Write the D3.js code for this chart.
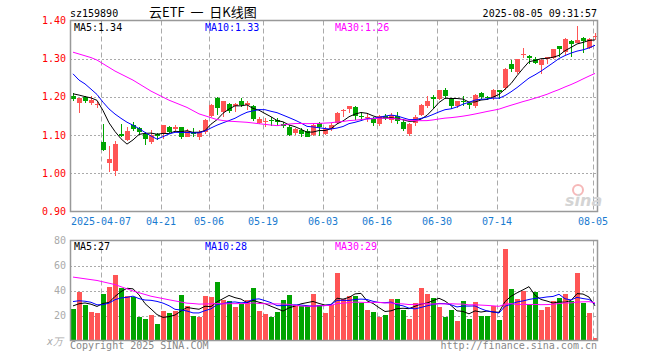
<!DOCTYPE html>
<html>
<head>
<meta charset="utf-8">
<script src="https://cdn.jsdelivr.net/npm/d3@7"></script>
<style>
  body { margin:0; background:#fff; }
  svg text { font-family:"DejaVu Sans Mono", monospace; font-size:10px; }
</style>
</head>
<body>
<div id="grafico"></div>
<script>
// dias de pregao (categorias)
const datas = ["2025-03-28","2025-03-31","2025-04-01","2025-04-02","2025-04-03","2025-04-07","2025-04-08","2025-04-09","2025-04-10","2025-04-11",
  "2025-04-14","2025-04-15","2025-04-16","2025-04-17","2025-04-18","2025-04-21","2025-04-22","2025-04-23","2025-04-24","2025-04-25",
  "2025-04-28","2025-04-29","2025-04-30","2025-05-06","2025-05-07","2025-05-08","2025-05-09","2025-05-12","2025-05-13","2025-05-14",
  "2025-05-15","2025-05-16","2025-05-19","2025-05-20","2025-05-21","2025-05-22","2025-05-23","2025-05-26","2025-05-27","2025-05-28",
  "2025-05-29","2025-05-30","2025-06-03","2025-06-04","2025-06-05","2025-06-06","2025-06-09","2025-06-10","2025-06-11","2025-06-12",
  "2025-06-13","2025-06-16","2025-06-17","2025-06-18","2025-06-19","2025-06-20","2025-06-23","2025-06-24","2025-06-25","2025-06-26",
  "2025-06-27","2025-06-30","2025-07-01","2025-07-02","2025-07-03","2025-07-04","2025-07-07","2025-07-08","2025-07-09","2025-07-10",
  "2025-07-11","2025-07-14","2025-07-15","2025-07-16","2025-07-17","2025-07-18","2025-07-21","2025-07-22","2025-07-23","2025-07-24",
  "2025-07-25","2025-07-28","2025-07-29","2025-07-30","2025-07-31","2025-08-01","2025-08-04","2025-08-05"];

const abertura = [1.203,1.183,1.201,1.183,1.179,1.081,1.027,1.006,1.104,1.087,
  1.126,1.118,1.102,1.082,1.102,1.103,1.120,1.115,1.120,1.096,
  1.109,1.096,1.109,1.150,1.198,1.161,1.182,1.175,1.190,1.178,
  1.176,1.132,1.134,1.140,1.140,1.129,1.120,1.106,1.113,1.111,
  1.100,1.132,1.103,1.115,1.131,1.162,1.168,1.173,1.150,1.145,
  1.141,1.129,1.150,1.140,1.150,1.135,1.103,1.131,1.153,1.176,
  1.199,1.194,1.218,1.194,1.176,1.190,1.183,1.176,1.210,1.199,
  1.199,1.217,1.223,1.287,1.264,1.310,1.306,1.299,1.284,1.300,
  1.302,1.332,1.318,1.347,1.341,1.355,1.328,1.356];
const maxima = [1.211,1.197,1.203,1.203,1.190,1.129,1.071,1.084,1.129,1.120,
  1.135,1.120,1.109,1.113,1.106,1.126,1.124,1.126,1.120,1.115,
  1.118,1.113,1.141,1.182,1.201,1.188,1.183,1.185,1.196,1.190,
  1.179,1.148,1.144,1.147,1.144,1.135,1.126,1.118,1.118,1.115,
  1.129,1.135,1.120,1.132,1.161,1.168,1.176,1.176,1.161,1.159,
  1.148,1.153,1.155,1.159,1.161,1.141,1.132,1.153,1.182,1.203,
  1.205,1.219,1.224,1.197,1.190,1.203,1.187,1.208,1.213,1.203,
  1.220,1.217,1.276,1.297,1.300,1.328,1.310,1.305,1.300,1.305,
  1.326,1.334,1.353,1.350,1.385,1.357,1.353,1.366];
const minima = [1.190,1.159,1.183,1.179,1.170,1.059,1.003,0.993,1.096,1.084,
  1.111,1.100,1.074,1.078,1.087,1.089,1.104,1.109,1.089,1.094,
  1.096,1.087,1.104,1.148,1.153,1.148,1.159,1.161,1.173,1.166,
  1.138,1.129,1.120,1.124,1.124,1.118,1.097,1.100,1.096,1.094,
  1.097,1.097,1.100,1.111,1.129,1.147,1.159,1.140,1.138,1.134,
  1.124,1.124,1.140,1.132,1.129,1.111,1.097,1.124,1.151,1.170,
  1.170,1.192,1.195,1.168,1.171,1.176,1.168,1.170,1.195,1.192,
  1.192,1.195,1.218,1.266,1.261,1.302,1.287,1.287,1.261,1.287,
  1.299,1.304,1.310,1.305,1.340,1.315,1.326,1.350];
const fechamento = [1.195,1.197,1.190,1.192,1.181,1.061,1.037,1.076,1.097,1.111,
  1.116,1.109,1.090,1.100,1.097,1.126,1.107,1.120,1.094,1.111,
  1.104,1.109,1.140,1.179,1.170,1.188,1.164,1.182,1.179,1.183,
  1.141,1.141,1.138,1.137,1.134,1.124,1.100,1.115,1.103,1.096,
  1.126,1.120,1.115,1.126,1.159,1.165,1.175,1.150,1.147,1.148,
  1.132,1.150,1.145,1.153,1.138,1.115,1.129,1.148,1.179,1.188,
  1.195,1.217,1.203,1.176,1.188,1.187,1.178,1.205,1.201,1.196,
  1.217,1.213,1.274,1.274,1.299,1.312,1.302,1.290,1.297,1.304,
  1.326,1.326,1.352,1.339,1.350,1.346,1.352,1.359];
// volume em 万
const volume = [25.0,38.6,28.2,22.6,21.8,37.0,42.6,52.2,41.8,35.4,
  34.6,18.9,17.0,20.2,13.0,23.4,21.8,23.4,36.2,27.4,
  19.4,18.6,35.4,34.6,46.6,32.2,31.4,26.6,29.0,32.2,
  41.8,23.4,21.0,18.6,22.6,32.2,36.2,28.2,27.4,27.4,
  37.0,28.2,21.8,28.2,54.1,33.0,35.4,35.7,30.4,24.2,
  22.6,18.6,20.2,33.0,33.0,24.2,17.0,29.8,41.8,37.0,
  33.8,26.6,18.6,24.2,15.4,31.4,17.0,30.6,19.4,19.4,
  27.4,16.2,73.0,41.0,33.0,39.4,29.0,38.6,24.2,26.6,
  31.4,33.8,37.0,31.4,53.8,29.8,21.8,1.8];
// dias antes do primeiro visivel (estimados pelas linhas MA)
const histFech = [1.338,1.331,1.333,1.376,1.349,1.325,1.364,1.334,1.348,1.353,
  1.397,1.378,1.388,1.334,1.363,1.344,1.310,1.284,1.301,1.357,
  1.361,1.290,1.329,1.320,1.263,1.214,1.210,1.209,1.213];
const histVol = [59.0,48.6,43.0,42.2,70.0,75.6,85.2,92.8,86.4,85.6,
  60.9,59.0,62.2,41.5,51.9,50.3,50.4,63.2,54.4,28.4,
  32.0,32.0,31.0,42.0,36.0,30.0,25.0,27.6,30.8];

const ticksPreco = [0.90,1.00,1.10,1.20,1.30,1.40];
const ticksVol = [20,40,60,80];
const ticksData = ["2025-04-07","2025-04-21","2025-05-06","2025-05-19","2025-06-03","2025-06-16","2025-06-30","2025-07-14","2025-08-05"];
const textosData = ["2025-04-07","04-21","05-06","05-19","06-03","06-16","06-30","07-14","08-05"];
const periodos = [5,10,30];
const legPreco = ["1.34","1.33","1.26"];
const legVol = ["27","28","29"];

const corMA = ["#000000","#0000ff","#ff00ff"];
const vermelho = "#ff5555", verde = "#00a400";

const svg = d3.select('#grafico').append('svg')
  .attr('width',660).attr('height',360);

const x = d3.scaleBand().domain(datas).range([70,598]).paddingInner(1/6).paddingOuter(1/12);
const cx = d => x(d) + x.bandwidth()/2;
const y = d3.scaleLinear().domain([0.90,1.40]).range([211.5,20.5]);
const yv = d3.scaleLinear().domain([0,80]).range([340.5,240.5]);

function media(vals, hist, n){ //media movel usando o historico
  const tudo = hist.concat(vals);
  return vals.map((v,i) => d3.mean(tudo.slice(hist.length+i-n+1, hist.length+i+1)));
}

// grades
[[y,ticksPreco.slice(1,5)],[yv,ticksVol.slice(0,3)]].forEach(([esc,ts]) => {
  svg.append('g').selectAll('line').data(ts).join('line')
    .attr('x1',70).attr('x2',597).attr('y1',d=>Math.round(esc(d))+0.5).attr('y2',d=>Math.round(esc(d))+0.5)
    .attr('stroke','#aaa').attr('stroke-dasharray','2,2');
});
[[20.5,211.5],[240.5,340.5]].forEach(([a,b]) => {
  svg.append('g').selectAll('line').data(ticksData).join('line')
    .attr('x1',d=>Math.round(x(d))+0.5).attr('x2',d=>Math.round(x(d))+0.5)
    .attr('y1',a).attr('y2',b)
    .attr('stroke','#aaa').attr('stroke-dasharray','5,3');
});

// velas
const ohlc = datas.map((d,i) => ({d, o:abertura[i], h:maxima[i], l:minima[i], c:fechamento[i], v:volume[i]}));
const velas = svg.append('g').attr('shape-rendering','crispEdges');
velas.selectAll('line').data(ohlc).join('line')
  .attr('x1',d=>Math.floor(cx(d.d))+0.5).attr('x2',d=>Math.floor(cx(d.d))+0.5)
  .attr('y1',d=>y(d.h)).attr('y2',d=>y(d.l))
  .attr('stroke',d=>d.c>=d.o?vermelho:verde);
velas.selectAll('rect').data(ohlc).join('rect')
  .attr('x',d=>Math.floor(cx(d.d))-2).attr('width',5)
  .attr('y',d=>y(Math.max(d.o,d.c)))
  .attr('height',d=>Math.max(1, y(Math.min(d.o,d.c))-y(Math.max(d.o,d.c))))
  .attr('fill',d=>d.c>=d.o?vermelho:verde);

// barras de volume
svg.append('g').attr('shape-rendering','crispEdges')
  .selectAll('rect').data(ohlc).join('rect')
  .attr('x',d=>Math.floor(cx(d.d))-2).attr('width',5)
  .attr('y',d=>yv(d.v)).attr('height',d=>yv(0)-yv(d.v))
  .attr('fill',d=>d.c>=d.o?vermelho:verde);

// medias moveis
periodos.forEach((n,k) => {
  const mp = media(fechamento, histFech, n);
  const mv = media(volume, histVol, n);
  svg.append('path').datum(mp)
    .attr('d', d3.line().x((v,i)=>cx(datas[i])).y(v=>y(v)))
    .attr('fill','none').attr('stroke',corMA[k]).attr('stroke-width',1);
  svg.append('path').datum(mv)
    .attr('d', d3.line().x((v,i)=>cx(datas[i])).y(v=>yv(v)))
    .attr('fill','none').attr('stroke',corMA[k]).attr('stroke-width',1);
});

// bordas
svg.append('rect').attr('x',70.5).attr('y',20.5).attr('width',527).attr('height',191)
  .attr('fill','none').attr('stroke','#999').attr('stroke-width',1.5);
svg.append('rect').attr('x',70.5).attr('y',240.5).attr('width',527).attr('height',100)
  .attr('fill','none').attr('stroke','#999').attr('stroke-width',1.5);

// eixos
svg.append('g').selectAll('text').data(ticksPreco).join('text')
  .attr('x',66).attr('y',d=>y(d)+3.5).attr('text-anchor','end').attr('fill','#f00')
  .text(d=>d.toFixed(2));
svg.append('g').selectAll('text').data(ticksVol).join('text')
  .attr('x',66).attr('y',d=>yv(d)+3.5).attr('text-anchor','end').attr('fill','#aaa')
  .text(d=>d);
svg.append('text').attr('x',63).attr('y',345).attr('text-anchor','end').attr('fill','#aaa')
  .attr('font-style','italic').text('x万');
svg.append('g').selectAll('text').data(ticksData).join('text')
  .attr('x',d=>Math.round(x(d))).attr('y',225).attr('text-anchor','middle').attr('fill','#1a7bd0')
  .text((d,i)=>textosData[i]);

// legendas
const posLeg = [74,205,335];
periodos.forEach((n,k) => {
  svg.append('text').attr('x',posLeg[k]).attr('y',30.5).attr('fill',corMA[k]).text('MA'+n+':'+legPreco[k]);
  svg.append('text').attr('x',posLeg[k]).attr('y',250).attr('fill',corMA[k]).text('MA'+n+':'+legVol[k]);
});

// cabecalho e rodape
svg.append('text').attr('x',70).attr('y',16.5).attr('fill','#000').text('sz159890');
svg.append('text').attr('x',149).attr('y',17).attr('fill','#000')
  .style('font-family','"Noto Sans CJK SC"').style('font-size','13px').style('white-space','pre')
  .text('云ETF  一  日K线图');
svg.append('text').attr('x',597).attr('y',16.5).attr('text-anchor','end').attr('fill','#000').text('2025-08-05 09:31:57');
svg.append('text').attr('x',70).attr('y',349).attr('fill','#888').text('Copyright 2025 SINA.COM');
svg.append('text').attr('x',597).attr('y',349).attr('text-anchor','end').attr('fill','#888').text('http://finance.sina.com.cn');

// marca d'agua
svg.append('circle').attr('cx',578).attr('cy',190).attr('r',5)
  .attr('fill','none').attr('stroke','#f6b8b8').attr('stroke-width',2);
svg.append('text').attr('x',565).attr('y',206).attr('fill','#d4d4d4')
  .style('font-family','"DejaVu Sans"').style('font-size','16px').style('font-weight','bold').style('font-style','italic')
  .text('sina');
</script>
</body>
</html>
